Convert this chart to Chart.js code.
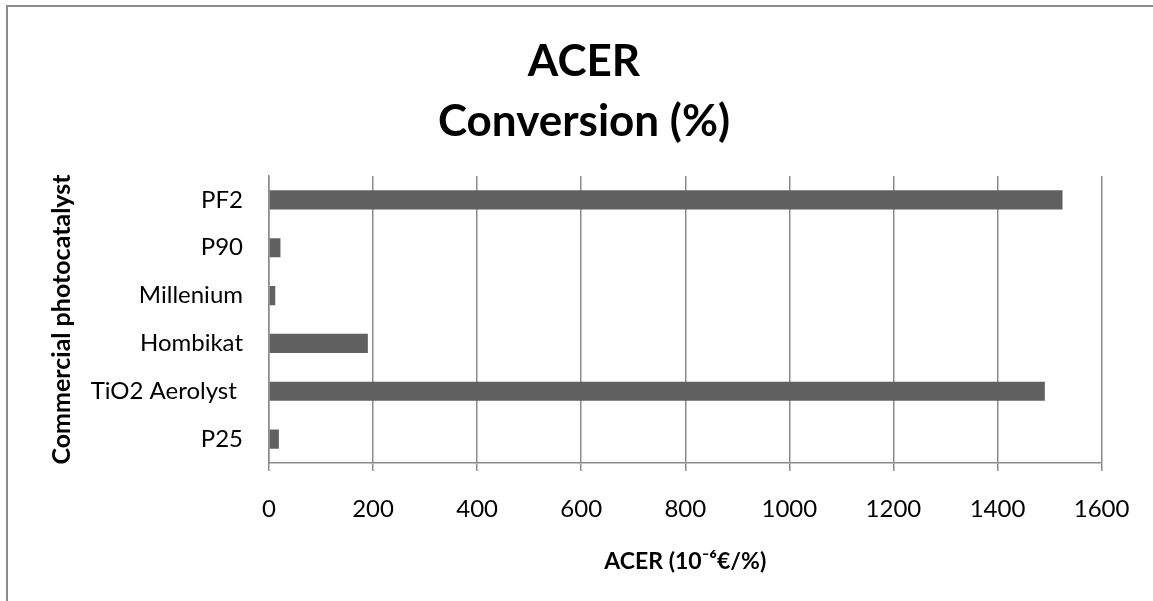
<!DOCTYPE html>
<html>
<head>
<meta charset="utf-8">
<script src="https://cdn.jsdelivr.net/npm/chart.js@4/dist/chart.umd.min.js"></script>
<style>
  html, body { margin: 0; padding: 0; background: #fff; }
  #wrap { position: relative; width: 1153px; height: 601px; }
  #frame {
    position: absolute; left: 6px; top: 5px; right: -10px; bottom: -10px;
    border-left: 2px solid #8c8c8c; border-top: 2px solid #8c8c8c;
    pointer-events: none;
  }
  canvas { position: absolute; left: 0; top: 0; }
</style>
</head>
<body>
<div id="wrap">
  <canvas id="acer-chart" width="1153" height="601"></canvas>
  <div id="frame"></div>
</div>
<script>
// photocatalysts, top to bottom
const catalysts = ["PF2", "P90", "Millenium", "Hombikat", "TiO2 Aerolyst ", "P25"];
// ACER per conversion, 10^-6 €/%
const acerValues = [1525, 22, 12, 190, 1491, 19];
const xTicks = [0, 200, 400, 600, 800, 1000, 1200, 1400, 1600];

const fontFamily = "Lato, 'Open Sans', sans-serif";
const gridGray = "#8c8c8c";

const acerChart = new Chart(document.getElementById("acer-chart"), {
  type: "bar",
  data: {
    labels: catalysts,
    datasets: [
      {
        label: "ACER",
        data: acerValues,
        backgroundColor: "#616161",
        barPercentage: 0.4,
        categoryPercentage: 1,
      },
    ],
  },
  options: {
    indexAxis: "y",
    responsive: false,
    animation: false,
    layout: {
      padding: { left: 66, right: 51, top: 0, bottom: 0 },
    },
    plugins: {
      legend: { display: false },
      tooltip: { enabled: false },
      title: {
        display: true,
        text: ["ACER", "Conversion (%)"],
        color: "#000",
        font: { family: fontFamily, size: 44, weight: "bold", lineHeight: 60 / 44 },
        padding: { top: 32, bottom: 24 },
      },
    },
    scales: {
      x: {
        min: 0,
        max: 1600,
        afterBuildTicks: (scale) => {
          scale.ticks = xTicks.map((v) => ({ value: v }));
        },
        afterFit: (scale) => {
          scale.height = 138;
        },
        grid: {
          color: gridGray,
          lineWidth: 1.5,
          drawTicks: true,
          tickLength: 8,
          tickColor: gridGray,
        },
        border: { display: true, color: gridGray, width: 1.5 },
        ticks: {
          color: "#000",
          padding: 23.6,
          font: { family: fontFamily, size: 24 },
          callback: (value) => String(value),
        },
        title: {
          display: true,
          text: "ACER (10⁻⁶€/%)",
          color: "#000",
          font: { family: fontFamily, size: 23, weight: "bold" },
          padding: { top: 0, bottom: 25.2 },
        },
      },
      y: {
        afterFit: (scale) => {
          // plot area starts at x = 269
          scale.width = 203;
        },
        grid: { display: false, drawTicks: false },
        border: { display: true, color: gridGray, width: 1.5 },
        ticks: {
          color: "#000",
          padding: 26,
          font: { family: fontFamily, size: 24 },
        },
        title: {
          display: true,
          text: "Commercial photocatalyst",
          color: "#000",
          font: { family: fontFamily, size: 25, weight: "bold" },
          padding: { top: -19, bottom: 0 },
        },
      },
    },
  },
});
</script>
</body>
</html>
